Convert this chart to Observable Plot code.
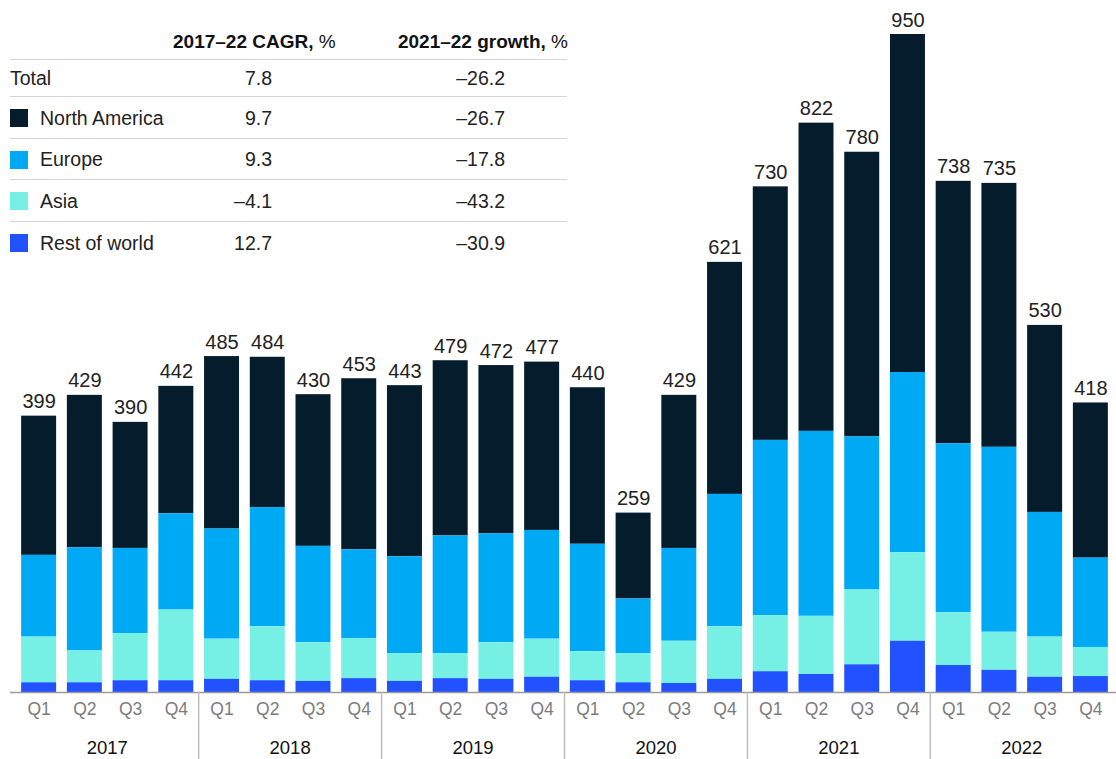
<!DOCTYPE html>
<html><head><meta charset="utf-8">
<script src="https://cdn.jsdelivr.net/npm/d3@7"></script>
<script src="https://cdn.jsdelivr.net/npm/@observablehq/plot@0.6"></script>
<style>
body{margin:0;background:#fff;font-family:"Liberation Sans",Arial,sans-serif;color:#222;}
#wrap{position:relative;width:1116px;height:759px;overflow:hidden;}
#legend{position:absolute;left:0;top:0;width:580px;height:270px;font-size:19.5px;}
#legend .hdr{position:absolute;top:30px;height:24px;line-height:24px;white-space:nowrap;font-size:19px;color:#111;}
#legend .hdr b{font-weight:bold;}
#legend .row{position:absolute;left:10px;width:557px;display:flex;align-items:center;}
#legend .line{position:absolute;left:10px;width:557px;height:0;border-top:1.5px solid #d4d4d4;}
#legend .sw{position:absolute;left:0;width:18px;height:18px;}
#legend .lab{position:absolute;left:30px;white-space:nowrap;}
#legend .v1{position:absolute;left:160px;width:102px;text-align:right;}
#legend .v2{position:absolute;left:390px;width:105px;text-align:right;}
</style></head><body>
<div id="wrap"><div id="chart"></div><div id="legend"></div></div>
<script>
const years = ["2017","2018","2019","2020","2021","2022"];
const quarters = ["Q1","Q2","Q3","Q4"];
const regions = ["North America","Europe","Asia","Rest of world"];
const colors = ["#051c2c","#00a9f4","#76f0e4","#2251ff"];
const totals = [399,429,390,442,485,484,430,453,443,479,472,477,440,259,429,621,730,822,780,950,738,735,530,418];
const northAmerica = [201,220,182,184,249,217,219,247,247,253,243,243,226,124,221,335,366,445,411,488,379,381,270,224];
const europe = [118,149,123,139,159,172,139,128,140,170,157,157,155,79,134,191,253,267,221,260,244,267,180,129];
const asia = [66,46,68,102,58,78,56,58,40,36,53,55,42,42,61,76,81,84,108,128,76,55,58,42];
const restOfWorld = [14,14,17,17,19,17,16,20,16,20,19,22,17,14,13,19,30,26,40,74,39,32,22,23];

const tableRows = ["Total","North America","Europe","Asia","Rest of world"];
const cagr = ["7.8","9.7","9.3","\u20134.1","12.7"];
const growth = ["\u201326.2","\u201326.7","\u201317.8","\u201343.2","\u201330.9"];
const headers = ["2017\u201322 CAGR,","2021\u201322 growth,"];

const FONT = '"Liberation Sans",Arial,sans-serif';
const keys = [];
years.forEach(y => quarters.forEach(q => keys.push(y + " " + q)));
const series = [northAmerica, europe, asia, restOfWorld];
const data = [];
keys.forEach((k, i) => regions.forEach((r, j) => data.push({key: k, region: r, value: series[j][i]})));
const labels = keys.map((k, i) => ({key: k, total: totals[i]}));

function yearAxis(index, scales, values, dimensions) {
  const x = scales.x, y = scales.y;
  const g = d3.create("svg:g");
  const gap = x.step() - x.bandwidth();
  const y0 = y(0);
  years.forEach((yr, i) => {
    const x1 = x(yr + " Q1"), x4 = x(yr + " Q4") + x.bandwidth();
    g.append("text").attr("x", (x1 + x4) / 2).attr("y", dimensions.height - 5)
      .attr("text-anchor", "middle").attr("font-size", 18.5).attr("fill", "#111")
      .attr("font-family", FONT).text(yr);
    if (i > 0) {
      g.append("line").attr("x1", x1 - gap / 2).attr("x2", x1 - gap / 2)
        .attr("y1", y0).attr("y2", dimensions.height)
        .attr("stroke", "#bdbdbd").attr("stroke-width", 1.5);
    }
  });
  return g.node();
}

const chart = Plot.plot({
  width: 1116, height: 759,
  marginLeft: 10, marginRight: 0, marginTop: 34, marginBottom: 67,
  style: {fontFamily: FONT, background: "transparent"},
  x: {domain: keys, paddingInner: 0.235, paddingOuter: 0.2, range: [12, 1117], round: false, label: null},
  y: {domain: [0, 950], axis: null},
  color: {domain: regions, range: colors},
  marks: [
    Plot.barY(data, {x: "key", y: "value", fill: "region", order: ["Rest of world","Asia","Europe","North America"]}),
    Plot.ruleY([0], {stroke: "#9a9a9a", strokeWidth: 1.5}),
    Plot.text(labels, {x: "key", y: "total", text: d => String(d.total), lineAnchor: "bottom", dy: -8, fontSize: 20, fill: "#222"}),
    Plot.axisX({tickSize: 0, tickPadding: 10, tickFormat: d => d.split(" ")[1], fontSize: 17.5, color: "#7c7c7c", label: null}),
    yearAxis
  ]
});
document.getElementById("chart").appendChild(chart);

// legend table
const leg = document.getElementById("legend");
const h1 = document.createElement("div"); h1.className = "hdr"; h1.style.left = "173px";
h1.innerHTML = "<b>" + headers[0] + "</b> %"; leg.appendChild(h1);
const h2 = document.createElement("div"); h2.className = "hdr"; h2.style.left = "360px"; h2.style.width = "208px"; h2.style.textAlign = "right";
h2.innerHTML = "<b>" + headers[1] + "</b> %"; leg.appendChild(h2);
const lineY = [59, 96, 138, 179, 221, 263];
tableRows.forEach((name, i) => {
  const ln = document.createElement("div"); ln.className = "line"; ln.style.top = lineY[i] + "px"; leg.appendChild(ln);
  const row = document.createElement("div"); row.className = "row";
  row.style.top = (lineY[i] + 1) + "px"; row.style.height = (lineY[i + 1] - lineY[i]) + "px";
  const ci = regions.indexOf(name);
  if (ci >= 0) {
    const sw = document.createElement("div"); sw.className = "sw"; sw.style.background = colors[ci]; row.appendChild(sw);
  }
  const lab = document.createElement("div"); lab.className = "lab"; lab.textContent = name;
  lab.style.left = ci >= 0 ? "30px" : "0px"; row.appendChild(lab);
  const v1 = document.createElement("div"); v1.className = "v1"; v1.textContent = cagr[i]; row.appendChild(v1);
  const v2 = document.createElement("div"); v2.className = "v2"; v2.textContent = growth[i]; row.appendChild(v2);
  leg.appendChild(row);
});
</script></body></html>
